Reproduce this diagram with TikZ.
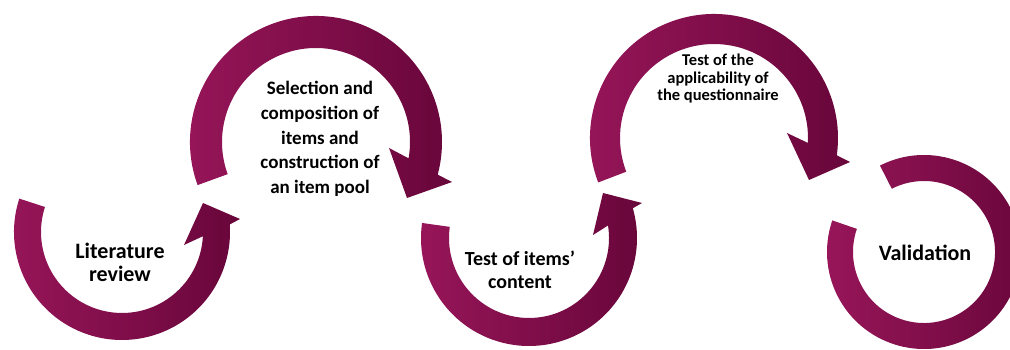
\documentclass[tikz,border=0pt]{standalone}
\usepackage{fontspec}
\setmainfont{Carlito}
\usetikzlibrary{calc}
\definecolor{ringLight}{RGB}{152,22,90}
\definecolor{ringDark}{RGB}{104,6,58}
\begin{document}
\begin{tikzpicture}[x=1pt,y=1pt,
  ringarrow/.style={left color=ringLight, right color=ringDark, draw=none},
  txt/.style={align=center, text=black, inner sep=0pt}]
\useasboundingbox (0,0) rectangle (1010,349);

% step 1: counter-clockwise ring, head pointing up on the right
\coordinate (c1) at (122,117);
\coordinate (h1o) at (240,130);
\coordinate (h1t) at (203,146);
\coordinate (h1i) at (184,104);
\path[ringarrow] ($(c1)+(162:108)$) arc[start angle=162, end angle=364, radius=108]
  -- (h1o) -- (h1t) -- (h1i)
  -- ($(c1)+(357:81)$) arc[start angle=357, end angle=162, radius=81] -- cycle;

% step 2: clockwise ring, head pointing down on the right
\coordinate (c2) at (316,207);
\coordinate (h2o) at (452,167);
\coordinate (h2t) at (407,151);
\coordinate (h2i) at (389,201);
\path[ringarrow] ($(c2)+(200:126)$) arc[start angle=200, end angle=-15, radius=126]
  -- (h2o) -- (h2t) -- (h2i)
  -- ($(c2)+(-10:94)$) arc[start angle=-10, end angle=200, radius=94] -- cycle;

% step 3: counter-clockwise ring
\coordinate (c3) at (529,111);
\coordinate (h3o) at (642,146);
\coordinate (h3t) at (603,156);
\coordinate (h3i) at (593,114);
\path[ringarrow] ($(c3)+(172:108)$) arc[start angle=172, end angle=376, radius=108]
  -- (h3o) -- (h3t) -- (h3i)
  -- ($(c3)+(369:80)$) arc[start angle=369, end angle=172, radius=80] -- cycle;

% step 4: clockwise ring
\coordinate (c4) at (714,211);
\coordinate (h4o) at (850,187);
\coordinate (h4t) at (809,169);
\coordinate (h4i) at (787,216);
\path[ringarrow] ($(c4)+(201:124)$) arc[start angle=201, end angle=-8, radius=124]
  -- (h4o) -- (h4t) -- (h4i)
  -- ($(c4)+(-3:94)$) arc[start angle=-3, end angle=201, radius=94] -- cycle;

% step 5: open ring without a head
\coordinate (c5) at (924,97);
\path[ringarrow] ($(c5)+(117:97)$) arc[start angle=117, end angle=-199, radius=97]
  -- ($(c5)+(-199:71)$) arc[start angle=-199, end angle=117, radius=71] -- cycle;

% step labels
\node[txt, font=\bfseries\fontsize{22}{23}\selectfont] (lit) at (120,87) {Literature\\review};
\node[txt, font=\bfseries\fontsize{19}{24.7}\selectfont] (sel) at (320,210)
  {Selection and\\composition of\\items and\\construction of\\an item pool};
\node[txt, font=\bfseries\fontsize{20}{23}\selectfont] (tic) at (520,79) {Test of items’\\content};
\node[txt, font=\bfseries\fontsize{16.5}{17.5}\selectfont] (app) at (718,270)
  {Test of the\\applicability of\\the questionnaire};
\node[txt, font=\bfseries\fontsize{22}{23}\selectfont] (val) at (925,96) {Validation};
\end{tikzpicture}
\end{document}
